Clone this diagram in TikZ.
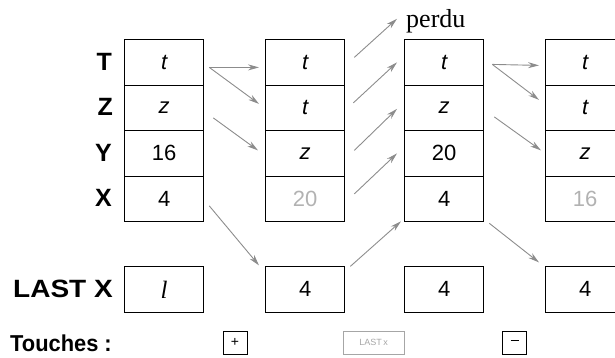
\documentclass[tikz,border=0pt]{standalone}
\usepackage{fontspec}
\setmainfont{Liberation Serif}
\setsansfont{Liberation Sans}
\usetikzlibrary{arrows.meta}
\begin{document}
\begin{tikzpicture}[x=1pt,y=-1pt,
  cell/.style={draw,line width=1.3pt,minimum width=79pt,minimum height=45.5pt,inner sep=0pt,anchor=north west,font=\sffamily\fontsize{22}{24}\selectfont},
  lbl/.style={anchor=east,inner sep=0pt,font=\sffamily\bfseries\fontsize{25}{27}\selectfont},
  arr/.style={draw=black!45,line width=0.9pt,-{Stealth[length=11pt,width=6pt]}},
  key/.style={draw,line width=0.9pt,minimum width=24pt,minimum height=23pt,inner sep=0pt,font=\sffamily\fontsize{14}{14}\selectfont},
  faded/.style={text=black!30}]
\useasboundingbox (0,0) rectangle (615,357);
% column 1
\node[cell] (c1T) at (124,39) {\itshape t};
\node[cell] (c1Z) at (124,84.5) {\itshape z};
\node[cell] (c1Y) at (124,130) {16};
\node[cell] (c1X) at (124,175.5) {4};
\node[cell] (c1L) at (124,266) {\rmfamily\itshape\fontsize{25}{27}\selectfont l};
% column 2
\node[cell] (c2T) at (265,39) {\itshape t};
\node[cell] (c2Z) at (265,84.5) {\itshape t};
\node[cell] (c2Y) at (265,130) {\itshape z};
\node[cell,faded] (c2X) at (265,175.5) {20};
\node[cell] (c2L) at (265,266) {4};
% column 3
\node[cell] (c3T) at (404,39) {\itshape t};
\node[cell] (c3Z) at (404,84.5) {\itshape z};
\node[cell] (c3Y) at (404,130) {20};
\node[cell] (c3X) at (404,175.5) {4};
\node[cell] (c3L) at (404,266) {4};
% column 4
\node[cell] (c4T) at (545,39) {\itshape t};
\node[cell] (c4Z) at (545,84.5) {\itshape t};
\node[cell] (c4Y) at (545,130) {\itshape z};
\node[cell,faded] (c4X) at (545,175.5) {16};
\node[cell] (c4L) at (545,266) {4};
% labels
\node[lbl] (lT) at (112,62) {T};
\node[lbl] (lZ) at (113,107) {Z};
\node[lbl] (lY) at (112,153) {Y};
\node[lbl] (lX) at (112,198) {X};
\node[lbl] (lL) at (113,289) {\scalebox{1.12}[1]{LAST X}};
\node[lbl,anchor=base west,font=\sffamily\bfseries\fontsize{23}{25}\selectfont] (touch) at (10,351) {\scalebox{0.95}[1]{Touches :}};
\node[anchor=base west,inner sep=0pt,font=\rmfamily\fontsize{26}{28}\selectfont] (perdu) at (406,27) {perdu};
% keys
\node[key] (kplus) at (235,342.5) {+};
\node[key,draw=black!35,text=black!35,minimum width=61pt,font=\sffamily\fontsize{9}{9}\selectfont] (klast) at (373.5,342.5) {LAST\,x};
\node[key] (kminus) at (514.5,342.5) {\rule[0.5ex]{8pt}{1.2pt}};
% arrows col1 -> col2
\draw[arr] ([shift={(5,5)}]c1T.east) -- ([shift={(-6,5)}]c2T.west);
\draw[arr] ([shift={(5,5)}]c1T.east) -- ([shift={(-6,-4)}]c2Z.west);
\draw[arr] ([shift={(9,10)}]c1Z.east) -- ([shift={(-7,-3)}]c2Y.west);
\draw[arr] ([shift={(5,7)}]c1X.east) -- ([shift={(-6,-24)}]c2L.west);
% arrows col2 -> col3
\draw[arr] ([shift={(9,-5)}]c2T.east) -- ([shift={(-9,-2)}]perdu.west);
\draw[arr] ([shift={(8,-5)}]c2Z.east) -- ([shift={(-7,0)}]c3T.west);
\draw[arr] ([shift={(9,-3)}]c2Y.east) -- ([shift={(-7,1)}]c3Z.west);
\draw[arr] ([shift={(9,-5)}]c2X.east) -- ([shift={(-7,0)}]c3Y.west);
\draw[arr] ([shift={(5,-23)}]c2L.east) -- ([shift={(-3,-1)}]c3X.south west);
% arrows col3 -> col4
\draw[arr] ([shift={(8,2)}]c3T.east) -- ([shift={(-6,3)}]c4T.west);
\draw[arr] ([shift={(8,2)}]c3T.east) -- ([shift={(-6,-8)}]c4Z.west);
\draw[arr] ([shift={(10,9)}]c3Z.east) -- ([shift={(-4,-3)}]c4Y.west);
\draw[arr] ([shift={(5,1)}]c3X.south east) -- ([shift={(-6,-27)}]c4L.west);
\end{tikzpicture}
\end{document}
